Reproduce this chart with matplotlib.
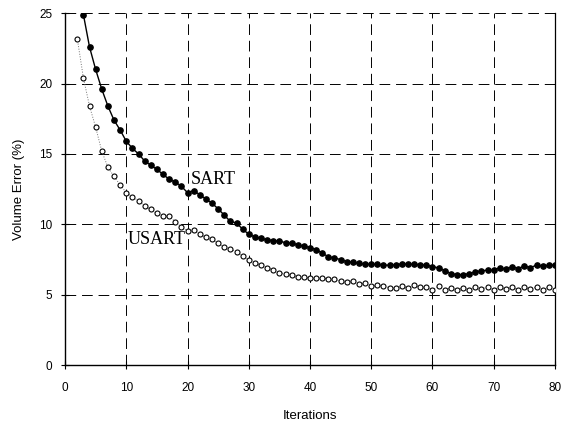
import numpy as np
import matplotlib.pyplot as plt

# iterations and volume error (%)
sart_iter = list(range(3, 81))
sart_err = [24.9, 22.6, 21.0, 19.6, 18.4, 17.4, 16.7, 15.9, 15.4, 15.0,
            14.5, 14.2, 13.9, 13.55, 13.2, 13.0, 12.7, 12.25, 12.4, 12.1,
            11.8, 11.5, 11.1, 10.65, 10.2, 10.1, 9.65, 9.3, 9.1, 9.0,
            8.9, 8.85, 8.8, 8.7, 8.65, 8.55, 8.45, 8.35, 8.2, 7.95,
            7.7, 7.6, 7.5, 7.35, 7.3, 7.22, 7.17, 7.17, 7.15, 7.1,
            7.1, 7.12, 7.2, 7.17, 7.17, 7.12, 7.1, 7.0, 6.9, 6.7,
            6.5, 6.43, 6.43, 6.5, 6.62, 6.7, 6.74, 6.74, 6.93, 6.8,
            7.0, 6.86, 7.03, 6.93, 7.1, 7.03, 7.1, 7.1]

usart_iter = list(range(2, 81))
usart_err = [23.2, 20.4, 18.4, 16.9, 15.2, 14.05, 13.4, 12.8, 12.25, 11.95,
             11.67, 11.3, 11.06, 10.77, 10.58, 10.58, 10.18, 9.82, 9.52, 9.6,
             9.3, 9.07, 8.93, 8.64, 8.4, 8.24, 8.05, 7.74, 7.5, 7.27,
             7.1, 6.93, 6.75, 6.56, 6.47, 6.4, 6.28, 6.23, 6.2, 6.17,
             6.22, 6.1, 6.09, 5.95, 5.92, 5.99, 5.75, 5.8, 5.6, 5.67,
             5.6, 5.5, 5.5, 5.6, 5.5, 5.67, 5.55, 5.55, 5.36, 5.6,
             5.36, 5.5, 5.36, 5.5, 5.36, 5.55, 5.38, 5.55, 5.36, 5.55,
             5.38, 5.55, 5.36, 5.55, 5.38, 5.55, 5.36, 5.55, 5.36]

xticks = [0, 10, 20, 30, 40, 50, 60, 70, 80]
yticks = [0, 5, 10, 15, 20, 25]

plt.rcParams['font.family'] = ['Liberation Sans', 'DejaVu Sans']

fig = plt.figure(figsize=(5.62, 4.25), dpi=100)
ax = fig.add_axes([0.1157, 0.141, 0.8718, 0.828])

ax.plot(usart_iter, usart_err, linestyle=':', color='0.45', lw=0.7,
        marker='o', ms=3.6, mfc='white', mec='black', mew=0.8, zorder=3)
ax.plot(sart_iter, sart_err, linestyle='-', color='black', lw=1.0,
        marker='o', ms=3.8, mfc='black', mec='black', zorder=4)

ax.text(20.6, 13.2, 'SART', family='Liberation Serif', fontsize=13,
        va='center', ha='left')
ax.text(10.3, 8.95, 'USART', family='Liberation Serif', fontsize=13,
        va='center', ha='left')

ax.set_xlim(0, 80)
ax.set_ylim(0, 25)
ax.set_xticks(xticks)
ax.set_yticks(yticks)
ax.tick_params(direction='inout', length=6, width=0.8, labelsize=8.5,
               colors='black')
ax.tick_params(axis='x', pad=9)
ax.tick_params(axis='y', pad=6)

ax.grid(True, color='black', lw=0.7, linestyle=(0, (11, 6)))
ax.set_axisbelow(True)

ax.spines['top'].set_visible(False)
ax.spines['right'].set_linewidth(0.9)
ax.spines['left'].set_linewidth(1.0)
ax.spines['bottom'].set_linewidth(1.0)

ax.set_xlabel('Iterations', fontsize=9.5, labelpad=12)
ax.set_ylabel('Volume Error (%)', fontsize=9.5, labelpad=10)

fig.savefig('out.png', dpi=100)
